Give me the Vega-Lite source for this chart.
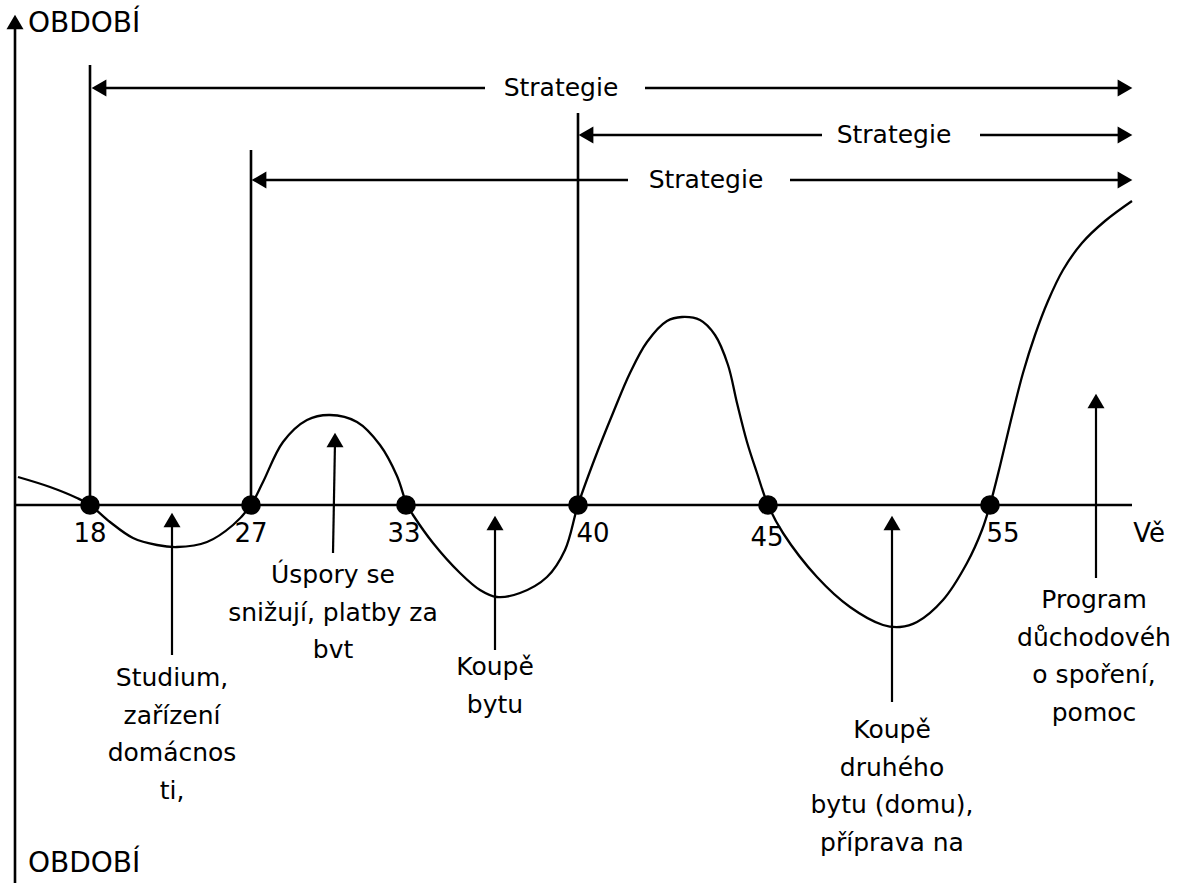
{
  "$schema": "https://vega.github.io/schema/vega-lite/v6.json",
  "width": 1181,
  "height": 883,
  "padding": 0,
  "autosize": {"type": "none"},
  "background": "white",
  "config": {"view": {"stroke": null}, "text": {"font": "DejaVu Sans", "color": "black"}},
  "datasets": {
    "segments": [
      {"x": 15, "y": 883, "x2": 15, "y2": 24},
      {"x": 15, "y": 505, "x2": 1132, "y2": 505},
      {"x": 90, "y": 65, "x2": 90, "y2": 505},
      {"x": 251, "y": 150, "x2": 251, "y2": 505},
      {"x": 578, "y": 113, "x2": 578, "y2": 505},
      {"x": 100, "y": 88, "x2": 485, "y2": 88},
      {"x": 645, "y": 88, "x2": 1124, "y2": 88},
      {"x": 587, "y": 135, "x2": 822, "y2": 135},
      {"x": 980, "y": 135, "x2": 1124, "y2": 135},
      {"x": 260, "y": 180, "x2": 628, "y2": 180},
      {"x": 790, "y": 180, "x2": 1124, "y2": 180}
    ],
    "shafts": [
      {"x": 172, "y": 655, "x2": 172, "y2": 522},
      {"x": 333, "y": 553, "x2": 335, "y2": 442},
      {"x": 495, "y": 650, "x2": 495, "y2": 525},
      {"x": 892, "y": 702, "x2": 892, "y2": 525},
      {"x": 1096, "y": 578, "x2": 1096, "y2": 403}
    ],
    "heads": [
      {"x": 15, "y": 22, "dir": "up"},
      {"x": 172, "y": 520, "dir": "up"},
      {"x": 335, "y": 440, "dir": "up"},
      {"x": 495, "y": 523, "dir": "up"},
      {"x": 892, "y": 523, "dir": "up"},
      {"x": 1096, "y": 401, "dir": "up"},
      {"x": 99, "y": 88, "dir": "left"},
      {"x": 586, "y": 135, "dir": "left"},
      {"x": 259, "y": 180, "dir": "left"},
      {"x": 1125, "y": 88, "dir": "right"},
      {"x": 1125, "y": 135, "dir": "right"},
      {"x": 1125, "y": 180, "dir": "right"}
    ],
    "curve": [
      {"x": 18, "y": 477}, {"x": 50, "y": 487}, {"x": 77, "y": 498}, {"x": 90, "y": 505},
      {"x": 110, "y": 522}, {"x": 133, "y": 538}, {"x": 157, "y": 545}, {"x": 177, "y": 547},
      {"x": 207, "y": 542}, {"x": 233, "y": 525}, {"x": 251, "y": 505}, {"x": 263, "y": 482},
      {"x": 283, "y": 442}, {"x": 307, "y": 420}, {"x": 330, "y": 415}, {"x": 357, "y": 422},
      {"x": 380, "y": 445}, {"x": 397, "y": 476}, {"x": 407, "y": 505}, {"x": 413, "y": 515},
      {"x": 433, "y": 543}, {"x": 460, "y": 573}, {"x": 480, "y": 590}, {"x": 497, "y": 597},
      {"x": 520, "y": 593}, {"x": 547, "y": 577}, {"x": 565, "y": 550}, {"x": 578, "y": 505},
      {"x": 595, "y": 458}, {"x": 613, "y": 413}, {"x": 630, "y": 373}, {"x": 647, "y": 342},
      {"x": 667, "y": 321}, {"x": 682, "y": 317}, {"x": 700, "y": 320}, {"x": 715, "y": 335},
      {"x": 728, "y": 365}, {"x": 737, "y": 403}, {"x": 747, "y": 442}, {"x": 757, "y": 473},
      {"x": 768, "y": 505}, {"x": 783, "y": 533}, {"x": 817, "y": 577}, {"x": 850, "y": 607},
      {"x": 883, "y": 625}, {"x": 900, "y": 627}, {"x": 917, "y": 622}, {"x": 943, "y": 600},
      {"x": 967, "y": 563}, {"x": 982, "y": 530}, {"x": 990, "y": 505}, {"x": 1000, "y": 466},
      {"x": 1011, "y": 420}, {"x": 1023, "y": 373}, {"x": 1035, "y": 335}, {"x": 1048, "y": 301},
      {"x": 1063, "y": 270}, {"x": 1082, "y": 243}, {"x": 1105, "y": 221}, {"x": 1132, "y": 201}
    ],
    "dots": [
      {"x": 90, "y": 505}, {"x": 251, "y": 505}, {"x": 406, "y": 505},
      {"x": 578, "y": 505}, {"x": 768, "y": 505}, {"x": 990, "y": 505}
    ],
    "titles": [
      {"x": 28, "y": 32, "t": "OBDOBÍ"},
      {"x": 28, "y": 872, "t": "OBDOBÍ"}
    ],
    "ages": [
      {"x": 90, "y": 542, "t": "18"},
      {"x": 251, "y": 542, "t": "27"},
      {"x": 404, "y": 542, "t": "33"},
      {"x": 593, "y": 542, "t": "40"},
      {"x": 767, "y": 546, "t": "45"},
      {"x": 1003, "y": 542, "t": "55"},
      {"x": 1149, "y": 542, "t": "Vě"}
    ],
    "strategies": [
      {"x": 561, "y": 96, "t": "Strategie"},
      {"x": 894, "y": 143, "t": "Strategie"},
      {"x": 706, "y": 188, "t": "Strategie"}
    ],
    "labels": [
      {"x": 172, "y": 686, "t": ["Studium,", "zařízení", "domácnos", "ti,"]},
      {"x": 333, "y": 583, "t": ["Úspory se", "snižují, platby za", "bvt"]},
      {"x": 495, "y": 675, "t": ["Koupě", "bytu"]},
      {"x": 892, "y": 738, "t": ["Koupě", "druhého", "bytu (domu),", "příprava na"]},
      {"x": 1094, "y": 608, "t": ["Program", "důchodovéh", "o spoření,", "pomoc"]}
    ]
  },
  "encoding": {
    "x": {"field": "x", "type": "quantitative", "scale": {"domain": [0, 1181], "nice": false, "zero": false}, "axis": null},
    "y": {"field": "y", "type": "quantitative", "scale": {"domain": [0, 883], "reverse": true, "nice": false, "zero": false}, "axis": null}
  },
  "layer": [
    {
      "data": {"name": "segments"},
      "mark": {"type": "rule", "strokeWidth": 2.6, "color": "black"},
      "encoding": {"x2": {"field": "x2"}, "y2": {"field": "y2"}}
    },
    {
      "data": {"name": "shafts"},
      "mark": {"type": "rule", "strokeWidth": 2.2, "color": "black"},
      "encoding": {"x2": {"field": "x2"}, "y2": {"field": "y2"}}
    },
    {
      "data": {"name": "curve"},
      "mark": {"type": "line", "interpolate": "catmull-rom", "strokeWidth": 2.3, "color": "black"}
    },
    {
      "data": {"name": "dots"},
      "mark": {"type": "point", "filled": true, "size": 380, "color": "black", "opacity": 1}
    },
    {
      "data": {"name": "heads"},
      "mark": {"type": "point", "filled": true, "size": 290, "color": "black", "opacity": 1},
      "encoding": {
        "shape": {"field": "dir", "type": "nominal", "scale": {"domain": ["up", "left", "right"], "range": ["triangle-up", "triangle-left", "triangle-right"]}, "legend": null}
      }
    },
    {
      "data": {"name": "titles"},
      "mark": {"type": "text", "align": "left", "baseline": "alphabetic", "fontSize": 28},
      "encoding": {"text": {"field": "t"}}
    },
    {
      "data": {"name": "ages"},
      "mark": {"type": "text", "align": "center", "baseline": "alphabetic", "fontSize": 26},
      "encoding": {"text": {"field": "t"}}
    },
    {
      "data": {"name": "strategies"},
      "mark": {"type": "text", "align": "center", "baseline": "alphabetic", "fontSize": 25},
      "encoding": {"text": {"field": "t"}}
    },
    {
      "data": {"name": "labels"},
      "mark": {"type": "text", "align": "center", "baseline": "alphabetic", "fontSize": 25, "lineHeight": 37.5},
      "encoding": {"text": {"field": "t"}}
    }
  ]
}
